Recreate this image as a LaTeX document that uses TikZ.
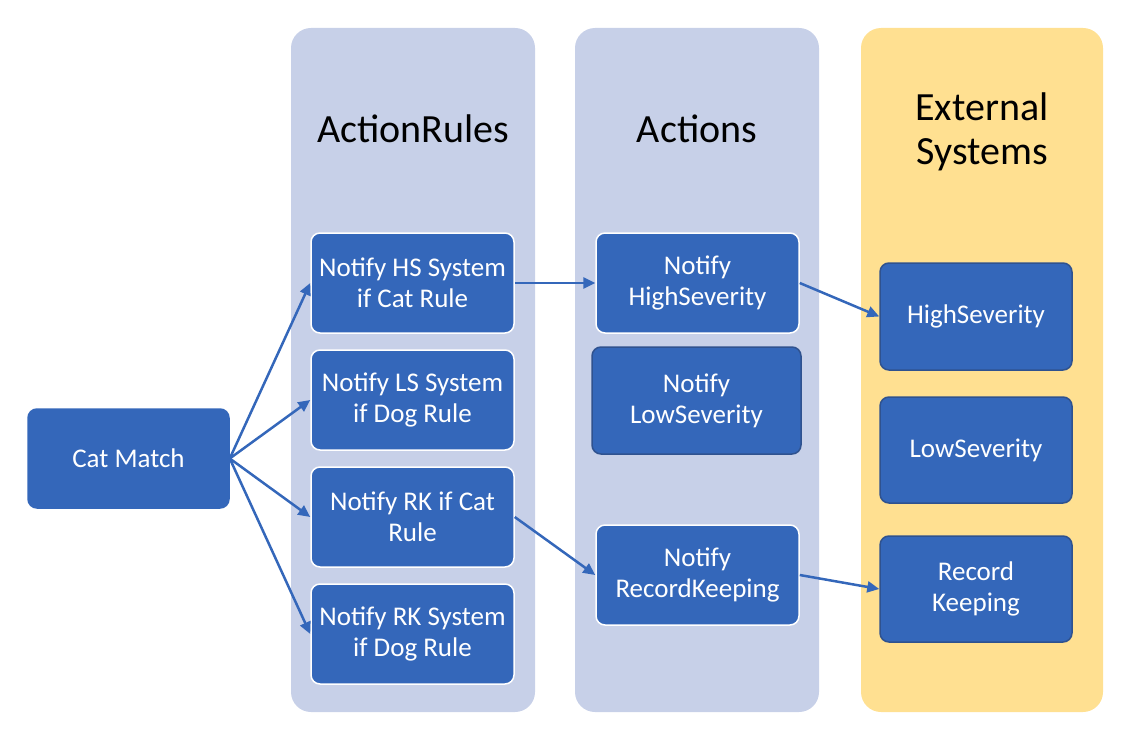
\documentclass[tikz,border=0pt]{standalone}
\usepackage{fontspec}
\setmainfont{Carlito}
\usepackage{xcolor}
\usetikzlibrary{arrows.meta}

\definecolor{boxblue}{RGB}{52,103,186}
\definecolor{edgedark}{RGB}{47,82,143}
\definecolor{panelblue}{RGB}{199,208,232}
\definecolor{panelgold}{RGB}{255,224,145}

\tikzset{
	panel/.style={rounded corners=20pt, minimum width=244pt, minimum height=684pt, draw=none},
	title/.style={font=\fontsize{40}{44}\selectfont, align=center, text=black},
	rulebox/.style={fill=boxblue, draw=white, line width=1.5pt, rounded corners=9pt,
		minimum width=203pt, minimum height=100pt, inner sep=0pt, text=white, align=center,
		font=\fontsize{27}{31}\selectfont},
	darkbox/.style={rulebox, draw=edgedark},
	flow/.style={draw=boxblue, line width=2.5pt, -{Triangle[length=12pt,width=11pt]}}
}

\begin{document}
\begin{tikzpicture}[x=1pt, y=-1pt]
	\useasboundingbox (0,0) rectangle (1124,730);
	% columns
	\node[panel, fill=panelblue] (rulespanel) at (413,370) {};
	\node[panel, fill=panelblue] (actpanel) at (697,370) {};
	\node[panel, fill=panelgold, minimum width=242pt] (extpanel) at (982,370) {};
	\node[title] (rulestitle) at (413,129) {ActionRules};
	\node[title] (acttitle) at (697,129) {Actions};
	\node[title] (exttitle) at (982,132) {External\\Systems};
	% source
	\node[rulebox, draw=boxblue, minimum width=201pt, minimum height=99pt] (catmatch) at (128.5,458.5) {Cat Match};
	% action rules
	\node[rulebox] (rulehs) at (412.5,283) {Notify HS System\\if Cat Rule};
	\node[rulebox] (rulels) at (412.5,400) {Notify LS System\\if Dog Rule};
	\node[rulebox] (rulerkcat) at (412.5,517) {Notify RK if Cat\\Rule};
	\node[rulebox] (rulerkdog) at (412.5,634) {Notify RK System\\if Dog Rule};
	% actions
	\node[rulebox] (acths) at (697.5,283) {Notify\\HighSeverity};
	\node[darkbox, minimum width=209pt, minimum height=107pt] (actls) at (696.5,400.5) {Notify\\LowSeverity};
	\node[rulebox] (actrk) at (697.5,575) {Notify\\RecordKeeping};
	% external systems
	\node[darkbox, minimum width=192pt, minimum height=107pt] (exths) at (976,316.5) {HighSeverity};
	\node[darkbox, minimum width=192pt, minimum height=106pt] (extls) at (976,450) {LowSeverity};
	\node[darkbox, minimum width=192pt, minimum height=106pt] (extrk) at (976,589) {Record\\Keeping};
	% connectors
	\foreach \target in {rulehs, rulels, rulerkcat, rulerkdog}
		\draw[flow] (catmatch.east) -- (\target.west);
	\draw[flow] (rulehs.east) -- (acths.west);
	\draw[flow] (acths.east) -- (exths.west);
	\draw[flow] (rulerkcat.east) -- (actrk.west);
	\draw[flow] (actrk.east) -- (extrk.west);
\end{tikzpicture}
\end{document}
